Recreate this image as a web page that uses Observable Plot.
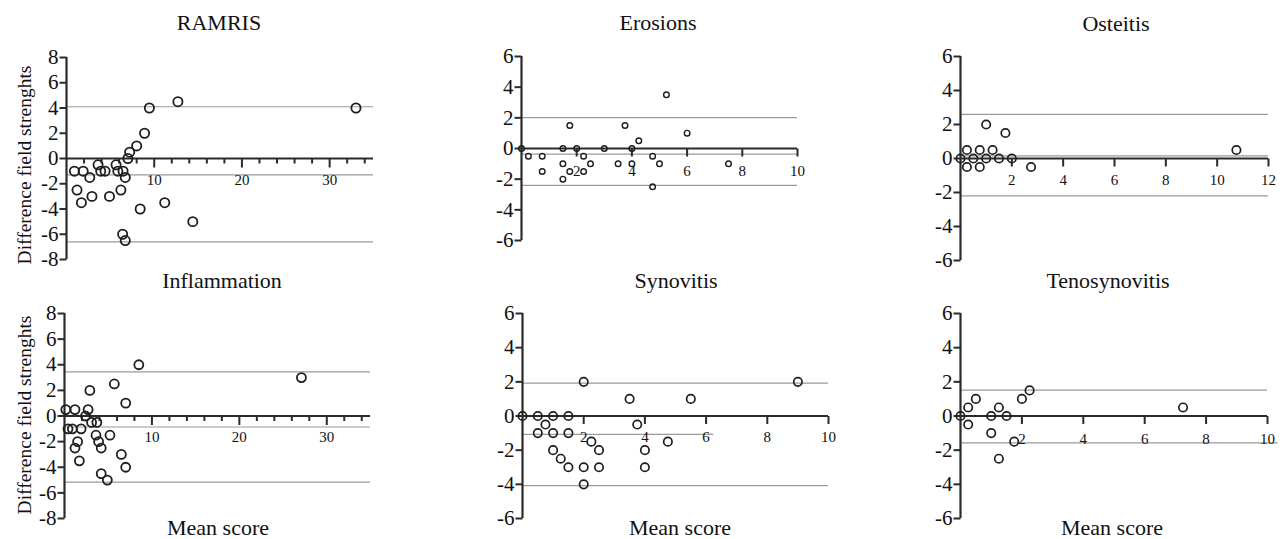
<!DOCTYPE html>
<html>
<head>
<meta charset="utf-8">
<script src="https://cdn.jsdelivr.net/npm/d3@7"></script>
<script src="https://cdn.jsdelivr.net/npm/@observablehq/plot@0.6"></script>
<style>
  html, body { margin: 0; padding: 0; background: #fff; }
  #root { position: relative; width: 1284px; height: 539px; overflow: hidden; font-family: "Liberation Serif", "Times New Roman", serif; color: #111; }
  .panel { position: absolute; }
  .title { position: absolute; width: 300px; text-align: center; font-size: 22px; line-height: 22px; white-space: nowrap; }
  .ylab { position: absolute; font-size: 19.5px; line-height: 20px; white-space: nowrap; transform: translate(-50%, -50%) rotate(-90deg); }
</style>
</head>
<body>
<div id="root"></div>
<script>
// ---------- data ----------
const titles = ["RAMRIS", "Erosions", "Osteitis", "Inflammation", "Synovitis", "Tenosynovitis"];
const yAxisLabel = "Difference field strenghts";
const xAxisLabel = "Mean score";

const ramrisMean = [0.9, 1.9, 1.2, 1.7, 2.65, 2.9, 3.6, 3.9, 4.4, 4.9, 5.65, 5.85, 6.2, 6.45, 6.7, 6.4, 6.7, 7.0, 7.2, 8.0, 8.4, 8.9, 9.45, 11.2, 12.7, 14.4, 33.0];
const ramrisDiff = [-1, -1, -2.5, -3.5, -1.5, -3, -0.5, -1, -1, -3, -0.5, -1, -2.5, -1, -1.5, -6, -6.5, 0, 0.5, 1, -4, 2, 4, -3.5, 4.5, -5, 4];
const ramrisLimits = [4.1, -1.3, -6.6];

const erosionsMean = [0, 0.25, 0.75, 0.75, 1.5, 1.5, 1.5, 1.75, 1.75, 2, 2.25, 2.25, 2.5, 3, 3.5, 3.75, 4, 4, 4.25, 4.75, 4.75, 5, 5.25, 6, 7.5];
const erosionsDiff = [0, -0.5, -0.5, -1.5, 0, -1, -2, 1.5, -1.5, 0, -0.5, -1.5, -1, 0, -1, 1.5, 0, -1, 0.5, -0.5, -2.5, -1, 3.5, 1, -1];
const erosionsLimits = [2.02, -0.37, -2.41];

const osteitisMean = [0, 0.25, 0.25, 0.5, 0.75, 0.75, 1, 1, 1.25, 1.5, 1.75, 2, 2.75, 10.75];
const osteitisDiff = [0, 0.5, -0.5, 0, 0.5, -0.5, 2, 0, 0.5, 0, 1.5, 0, -0.5, 0.5];
const osteitisLimits = [2.6, 0.15, -2.2];

const inflammationMean = [0.15, 0.4, 0.9, 1.2, 1.2, 1.5, 1.7, 1.9, 2.4, 2.7, 2.9, 3.1, 3.7, 3.6, 3.9, 4.2, 4.2, 4.9, 5.2, 5.7, 6.5, 7.0, 7.0, 8.5, 27.1];
const inflammationDiff = [0.5, -1, -1, 0.5, -2.5, -2, -3.5, -1, 0, 0.5, 2, -0.5, -0.5, -1.5, -2, -2.5, -4.5, -5, -1.5, 2.5, -3, 1, -4, 4, 3];
const inflammationLimits = [3.44, -0.86, -5.16];

const synovitisMean = [0, 0.5, 0.5, 0.75, 1, 1, 1, 1.25, 1.5, 1.5, 1.5, 2, 2, 2, 2.25, 2.5, 2.5, 3.5, 3.75, 4, 4, 4.75, 5.5, 9];
const synovitisDiff = [0, 0, -1, -0.5, 0, -1, -2, -2.5, 0, -1, -3, 2, -3, -4, -1.5, -2, -3, 1, -0.5, -2, -3, -1.5, 1, 2];
const synovitisLimits = [1.92, -1.08, -4.08];
const synovitisLimitEnds = [10, 6.25, 10];

const tenoMean = [0, 0.25, 0.25, 0.5, 1, 1, 1.25, 1.25, 1.5, 1.75, 2, 2.25, 7.25];
const tenoDiff = [0, 0.5, -0.5, 1, 0, -1, 0.5, -2.5, 0, -1.5, 1, 1.5, 0.5];
const tenoLimits = [1.51, -1.57];
const tenoLimitEnds = [10, 10.35];

const yTicks8 = [-8, -6, -4, -2, 0, 2, 4, 6, 8];
const yTicks6 = [-6, -4, -2, 0, 2, 4, 6];
const xMajor35 = [10, 20, 30];
const xMinor35 = [2, 4, 6, 8, 12, 14, 16, 18, 22, 24, 26, 28, 32, 34];
const xTicks10 = [2, 4, 6, 8, 10];
const xTicks12 = [2, 4, 6, 8, 10, 12];

// ---------- drawing ----------
const FONT = "'Liberation Serif', 'Times New Roman', serif";
const root = document.getElementById("root");
const INK = "#2b2b2b";
const GRID = "#9a9a9a";

function tickSymbol(dx, dy) {
  return { draw(ctx) { ctx.moveTo(0, 0); ctx.lineTo(dx, dy); } };
}

function panel(o) {
  const pts = o.mean.map((m, i) => ({ m, d: o.diff[i] }));
  const ends = o.limitEnds || o.limits.map(() => o.xDomain[1]);
  const lim = o.limits.map((v, i) => ({ v, e: ends[i] }));
  const marks = [
    Plot.ruleY(lim, { y: "v", x1: 0, x2: "e", stroke: GRID, strokeWidth: 1.2 }),
    Plot.ruleY([0], { x1: 0, x2: o.xDomain[1], stroke: INK, strokeWidth: 2.2 }),
    Plot.ruleX([0], { stroke: INK, strokeWidth: 2.2 }),
    Plot.dot(o.xMajor, { x: d => d, y: 0, symbol: tickSymbol(0, o.majorLen), stroke: INK, strokeWidth: 2, fill: "none" }),
    Plot.dot(o.xMinor || [], { x: d => d, y: 0, symbol: tickSymbol(0, 5), stroke: INK, strokeWidth: 2, fill: "none" }),
    Plot.dot(o.yTicks, { x: 0, y: d => d, symbol: tickSymbol(-7, 0), stroke: INK, strokeWidth: 2, fill: "none" }),
    Plot.text(o.yTicks, { x: 0, y: d => d, text: d => String(d), dx: -8, textAnchor: "end", fontSize: 21, fontFamily: FONT, fill: "#111" }),
    Plot.text(o.xMajor, { x: d => d, y: 0, text: d => String(d), dy: o.labelDy, fontSize: 15, fontFamily: FONT, fill: "#111" }),
    Plot.dot(pts, { x: "m", y: "d", r: o.r, stroke: "#1e1e1e", strokeWidth: o.sw, fill: "none" })
  ];
  const svg = Plot.plot({
    width: o.width, height: o.height,
    marginLeft: o.mL, marginRight: o.mR, marginTop: o.mT, marginBottom: o.mB,
    x: { domain: o.xDomain, axis: null },
    y: { domain: o.yDomain, axis: null },
    style: { background: "transparent", overflow: "visible", fontFamily: FONT },
    marks
  });
  const div = document.createElement("div");
  div.className = "panel";
  div.style.left = o.left + "px";
  div.style.top = o.top + "px";
  div.appendChild(svg);
  root.appendChild(div);
}

function addText(cls, text, x, y) {
  const d = document.createElement("div");
  d.className = cls;
  d.textContent = text;
  if (cls === "title") { d.style.left = (x - 150) + "px"; d.style.top = (y - 11) + "px"; }
  else { d.style.left = x + "px"; d.style.top = y + "px"; }
  root.appendChild(d);
}

// Row 1: top 40, height 240
panel({ left: 0, top: 40, width: 430, height: 240, mL: 66, mR: 57, mT: 17, mB: 21,
  xDomain: [0, 35], yDomain: [-8, 8], yTicks: yTicks8, xMajor: xMajor35, xMinor: xMinor35, majorLen: 9, labelDy: 22,
  mean: ramrisMean, diff: ramrisDiff, limits: ramrisLimits, r: 4.6, sw: 1.8 });
panel({ left: 430, top: 40, width: 430, height: 240, mL: 91, mR: 63, mT: 16, mB: 40,
  xDomain: [0, 10], yDomain: [-6, 6], yTicks: yTicks6, xMajor: xTicks10, majorLen: 8, labelDy: 23,
  mean: erosionsMean, diff: erosionsDiff, limits: erosionsLimits, r: 2.8, sw: 1.4 });
panel({ left: 860, top: 40, width: 424, height: 240, mL: 100, mR: 16, mT: 16, mB: 20,
  xDomain: [0, 12], yDomain: [-6, 6], yTicks: yTicks6, xMajor: xTicks12, majorLen: 8, labelDy: 22,
  mean: osteitisMean, diff: osteitisDiff, limits: osteitisLimits, r: 4.2, sw: 1.7 });

// Row 2: top 295, height 235
panel({ left: 0, top: 295, width: 430, height: 235, mL: 64, mR: 60, mT: 18, mB: 12,
  xDomain: [0, 35], yDomain: [-8, 8], yTicks: yTicks8, xMajor: xMajor35, xMinor: xMinor35, majorLen: 9, labelDy: 21,
  mean: inflammationMean, diff: inflammationDiff, limits: inflammationLimits, r: 4.5, sw: 1.8 });
panel({ left: 430, top: 295, width: 430, height: 235, mL: 92, mR: 32, mT: 18, mB: 12,
  xDomain: [0, 10], yDomain: [-6, 6], yTicks: yTicks6, xMajor: xTicks10, majorLen: 8, labelDy: 21,
  mean: synovitisMean, diff: synovitisDiff, limits: synovitisLimits, limitEnds: synovitisLimitEnds, r: 4.2, sw: 1.7 });
panel({ left: 860, top: 295, width: 424, height: 235, mL: 100, mR: 17, mT: 18, mB: 12,
  xDomain: [0, 10], yDomain: [-6, 6], yTicks: yTicks6, xMajor: xTicks10, majorLen: 8, labelDy: 23,
  mean: tenoMean, diff: tenoDiff, limits: tenoLimits, limitEnds: tenoLimitEnds, r: 4.2, sw: 1.7 });

// titles and axis labels
const titlePos = [[219, 23], [658, 23], [1116, 24], [222, 281], [676, 281], [1108, 281]];
titles.forEach((t, i) => addText("title", t, titlePos[i][0], titlePos[i][1]));
[[218, 528], [680, 528], [1112, 528]].forEach(p => addText("title", xAxisLabel, p[0], p[1]));
addText("ylab", yAxisLabel, 25, 165);
addText("ylab", yAxisLabel, 25, 415);
</script>
</body>
</html>
